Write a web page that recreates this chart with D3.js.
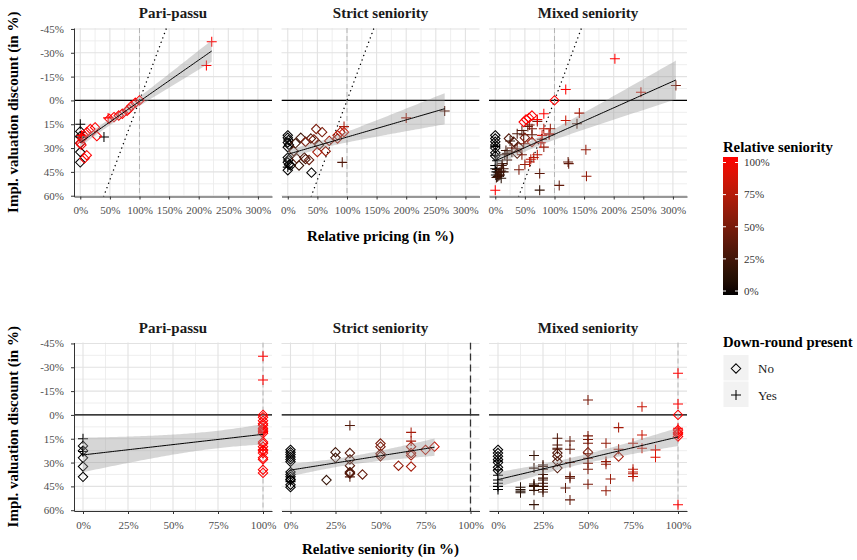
<!DOCTYPE html>
<html>
<head>
<meta charset="utf-8">
<script src="https://cdn.jsdelivr.net/npm/d3@7"></script>
<style>
  body { margin: 0; background: #fff; }
  svg { display: block; font-family: "Liberation Serif", "Times New Roman", serif; }
</style>
</head>
<body>
<div id="chart"></div>
<script>
const facetNames = ["Pari-passu", "Strict seniority", "Mixed seniority"];

// rows: [relative pricing %, relative seniority %, impl. valuation discount %, down-round (1 = yes)]
const pariPassu = [
  [0, 0, 15, 1], [0, 0, 19.5, 0], [0, 0, 22.5, 0], [0, 0, 23, 1], [0, 0, 27, 0],
  [0, 0, 32.5, 0], [0, 0, 39, 0], [40, 0, 23, 1],
  [100, 100, 0, 0], [93, 100, 1.5, 0], [86, 100, 3.6, 0], [82, 100, 5.5, 0], [79, 100, 6.5, 0],
  [71, 100, 8.4, 0], [65, 100, 9.5, 0], [57, 100, 10.5, 0], [49, 100, 11.6, 0], [47, 100, 11, 1],
  [28, 100, 22.5, 0], [25, 100, 17, 0], [17, 100, 18, 0], [11, 100, 20, 0], [6, 100, 22, 0],
  [2, 100, 22, 1], [3, 100, 24, 0], [0, 100, 27, 0], [2, 100, 28, 0], [11, 100, 34.5, 0],
  [7, 100, 36.5, 0], [222, 100, -37, 1], [213, 100, -22, 1]
];

const strictSeniority = [
  [0, 0, 22, 0], [0, 0, 23.5, 0], [1, 0, 25, 0], [0, 0, 26.5, 0], [2, 0, 28, 0], [0, 0, 29.5, 0],
  [0, 0, 36, 0], [1, 0, 37.5, 0], [0, 0, 39, 0], [2, 0, 40.5, 0], [0, 0, 42, 1], [5, 0, 41, 0],
  [0, 0, 44, 0], [40, 0, 45.5, 0],
  [19, 20, 41, 0], [22, 25, 23.5, 0], [13, 25, 27, 0],
  [39, 33, 24, 0], [53, 33, 28, 0], [10, 33, 32, 0], [28, 33, 36, 0], [30, 33, 37, 0],
  [15, 33, 36.5, 0], [92, 33, 39, 1], [265, 33, 6.7, 1],
  [36, 40, 37.5, 0],
  [48, 50, 18, 0], [58, 50, 20, 0], [44, 50, 24.5, 0], [30, 50, 26, 0],
  [64, 60, 32, 0],
  [200, 67, 11, 1], [95, 67, 16.5, 1], [89, 67, 20, 0], [84, 67, 24, 0], [70, 67, 25.5, 0], [50, 67, 32.5, 0],
  [84, 75, 22, 0], [95, 80, 20, 0]
];

const mixedSeniority = [
  [0, 0, 22, 0], [0, 0, 24, 0], [0, 0, 26, 0], [0, 0, 28, 0], [0, 0, 30, 0], [0, 0, 33, 0],
  [0, 0, 35, 0], [0, 0, 34.5, 1], [0, 0, 29, 1], [0, 0, 41, 1], [2, 0, 45, 1], [0, 0, 43, 1],
  [3, 0, 38, 1], [1, 0, 47, 1],
  [8, 12.5, 47, 1], [10, 12.5, 49, 1], [5, 12.5, 45.5, 1], [4, 12.5, 48, 1],
  [25, 20, 25.5, 1], [20, 20, 33.5, 1], [3, 20, 43.5, 1], [75, 20, 56.5, 1], [14, 20, 45, 1],
  [6, 20, 47.5, 1], [10, 20, 44.5, 1],
  [28, 25, 32.5, 1], [20, 25, 37.5, 1], [11, 25, 41, 1], [14, 25, 43, 1], [8, 25, 45, 1], [6, 25, 47, 1],
  [18, 25, 31.5, 1], [16, 25, 34.2, 1], [12, 25, 39.8, 1], [2, 25, 48.5, 1],
  [138, 33, 14.7, 1], [45, 33, 18.9, 1], [37, 33, 21, 1], [48, 33, 21.6, 1], [23, 33, 24, 0],
  [31, 33, 26, 0], [40, 33, 29.4, 0], [37, 33, 33.5, 0],
  [75, 37.5, 46, 1],
  [55, 40, 16.4, 1], [62, 40, 21.6, 1], [28, 40, 30, 1], [123, 40, 38.8, 1], [124, 40, 39.8, 1], [108, 40, 53.5, 1],
  [305, 50, -9.4, 1], [71, 50, 13.2, 1], [58, 50, 15.5, 1], [62, 50, 17.8, 1], [50, 50, 23.5, 0],
  [79, 50, 24.5, 1], [48, 50, 27.3, 1], [37, 50, 30.4, 1], [45, 50, 34.2, 1], [40, 50, 43.6, 1],
  [93, 60, 17.8, 1], [82, 60, 29.4, 1], [153, 60, 31, 1], [154, 60, 47.8, 1],
  [50, 62.5, 40.3, 1],
  [142, 67, 8, 1], [91, 67, 21.6, 1], [62, 67, 26.2, 0],
  [82, 75, 17.8, 1], [71, 75, 34.2, 1], [65, 75, 36, 1], [60, 75, 37.1, 1], [58, 75, 38.8, 1],
  [246, 80, -5.2, 1], [119, 80, 12.6, 1], [91, 80, 21, 1],
  [79, 87.5, 22, 1], [77, 87.5, 26.6, 1],
  [202, 100, -26.2, 1], [119, 100, -6.9, 1], [100, 100, 0, 0], [62, 100, 9.5, 0], [57, 100, 11, 0],
  [52, 100, 12, 0], [48, 100, 13.6, 0], [82, 100, 8.4, 1], [71, 100, 12, 1], [0, 100, 56.6, 1]
];

const pricingTicks = [0, 50, 100, 150, 200, 250, 300];
const seniorityTicks = [0, 25, 50, 75, 100];
const discountTicks = [-45, -30, -15, 0, 15, 30, 45, 60];
const colourTicks = [0, 25, 50, 75, 100];
const downRoundLabels = ["No", "Yes"];
const breakEven = { intercept: 100, slope: -1 };   // discount = 100% - relative pricing

const width = 857, height = 560;
const panelW = 198, panelH = 168.5;
const panelX = [74, 281.5, 489];
const rowY = [28, 342.5];

const svg = d3.select("#chart").append("svg")
  .attr("width", width)
  .attr("height", height);

const colour = d3.scaleLinear().domain([0, 100]).range(["#000000", "#ff0000"]).interpolate(d3.interpolateLab);
const y = d3.scaleLinear().domain([-45.6, 60.5]).range([0, panelH]);
const xPricing = d3.scaleLinear().domain([-10.6, 323.8]).range([0, panelW]);
const xSeniority = d3.scaleLinear().domain([-5, 105]).range([0, panelW]);

const diamond = "M0,-4.7L4.7,0L0,4.7L-4.7,0Z";
const plus = "M-5,0H5M0,-5V5";

// linear fit with 95% confidence band, like geom_smooth(method = "lm")
function lmBand(data, xi) {
  const n = data.length;
  const xs = data.map(d => d[xi]);
  const xbar = d3.mean(xs), ybar = d3.mean(data, d => d[2]);
  const sxx = d3.sum(xs, v => (v - xbar) ** 2);
  const sxy = d3.sum(data, d => (d[xi] - xbar) * (d[2] - ybar));
  const b = sxy / sxx, a = ybar - b * xbar;
  const df = n - 2;
  const s = Math.sqrt(d3.sum(data, d => (d[2] - a - b * d[xi]) ** 2) / df);
  const t = 1.96 + 2.4 / df + 2.9 / (df * df);
  const [x0, x1] = d3.extent(xs);
  return d3.range(81).map(i => {
    const xv = x0 + (x1 - x0) * i / 80;
    const fitV = a + b * xv;
    const se = s * Math.sqrt(1 / n + (xv - xbar) ** 2 / sxx);
    return { x: xv, y: fitV, lo: fitV - t * se, hi: fitV + t * se };
  });
}

const datasets = [pariPassu, strictSeniority, mixedSeniority];
const defs = svg.append("defs");

[0, 1].forEach(row => {
  const x = row === 0 ? xPricing : xSeniority;
  const xi = row === 0 ? 0 : 1;
  const xTicks = row === 0 ? pricingTicks : seniorityTicks;
  const step = xTicks[1] - xTicks[0];
  const xMinor = d3.range(xTicks[0] + step / 2, x.domain()[1], step);
  const yMinor = discountTicks.slice(0, -1).map(v => v + 7.5);

  datasets.forEach((data, col) => {
    const g = svg.append("g").attr("transform", `translate(${panelX[col]},${rowY[row]})`);
    const clipId = `clip-${row}-${col}`;
    defs.append("clipPath").attr("id", clipId)
      .append("rect").attr("width", panelW).attr("height", panelH);

    // grid
    g.selectAll(".vminor").data(xMinor).join("line")
      .attr("x1", d => x(d)).attr("x2", d => x(d)).attr("y1", 0).attr("y2", panelH)
      .attr("stroke", "#ececec").attr("stroke-width", 0.9);
    g.selectAll(".hminor").data(yMinor).join("line")
      .attr("x1", 0).attr("x2", panelW).attr("y1", d => y(d)).attr("y2", d => y(d))
      .attr("stroke", "#ececec").attr("stroke-width", 0.9);
    g.selectAll(".vmajor").data(xTicks).join("line")
      .attr("x1", d => x(d)).attr("x2", d => x(d)).attr("y1", 0).attr("y2", panelH)
      .attr("stroke", "#e2e2e2").attr("stroke-width", 1.1);
    g.selectAll(".hmajor").data(discountTicks).join("line")
      .attr("x1", 0).attr("x2", panelW).attr("y1", d => y(d)).attr("y2", d => y(d))
      .attr("stroke", "#e2e2e2").attr("stroke-width", 1.1);

    const inner = g.append("g").attr("clip-path", `url(#${clipId})`);

    // reference lines
    inner.append("line")
      .attr("x1", 0).attr("x2", panelW).attr("y1", y(0)).attr("y2", y(0))
      .attr("stroke", "#000").attr("stroke-width", 1.1);
    const heavy = row === 1 && col === 1;
    inner.append("line")
      .attr("x1", x(100)).attr("x2", x(100)).attr("y1", 0).attr("y2", panelH)
      .attr("stroke", heavy ? "#333" : "#a8a8a8")
      .attr("stroke-width", heavy ? 1.3 : 0.8)
      .attr("stroke-dasharray", heavy ? "7,4" : "5,3");
    if (row === 0) {
      const yLo = y.domain()[1], yHi = y.domain()[0];
      const xa = (yLo - breakEven.intercept) / breakEven.slope;
      const xb = (yHi - breakEven.intercept) / breakEven.slope;
      inner.append("line")
        .attr("x1", x(xa)).attr("y1", y(yLo)).attr("x2", x(xb)).attr("y2", y(yHi))
        .attr("stroke", "#000").attr("stroke-width", 1.4)
        .attr("stroke-linecap", "round").attr("stroke-dasharray", "0.1,4.6");
    }

    // points
    inner.selectAll(".pt").data(data).join("path")
      .attr("transform", d => `translate(${x(d[xi])},${y(d[2])})`)
      .attr("d", d => d[3] ? plus : diamond)
      .attr("fill", "none")
      .attr("stroke", d => colour(d[1]))
      .attr("stroke-width", 1.05);

    // lm fit
    const band = lmBand(data, xi);
    inner.append("path").datum(band)
      .attr("d", d3.area().x(d => x(d.x)).y0(d => y(d.lo)).y1(d => y(d.hi)))
      .attr("fill", "#999").attr("fill-opacity", 0.4);
    inner.append("path").datum(band)
      .attr("d", d3.line().x(d => x(d.x)).y(d => y(d.y)))
      .attr("fill", "none").attr("stroke", "#000").attr("stroke-width", 1);

    // x axis
    const xa = g.append("g").attr("transform", `translate(0,${panelH})`)
      .call(d3.axisBottom(x).tickValues(xTicks).tickSize(3).tickSizeOuter(0).tickPadding(7)
        .tickFormat(d => d + "%"));
    xa.select(".domain").attr("stroke", "#333").attr("stroke-width", 1);
    xa.selectAll(".tick line").attr("stroke", "#333");
    xa.selectAll("text").attr("fill", "#4d4d4d").style("font-size", "11px")
      .style("font-family", "Liberation Serif, serif");

    // y axis (first column only)
    if (col === 0) {
      const ya = g.append("g")
        .call(d3.axisLeft(y).tickValues(discountTicks).tickSize(3).tickSizeOuter(0).tickPadding(7)
          .tickFormat(d => d + "%"));
      ya.select(".domain").attr("stroke", "#333").attr("stroke-width", 1);
      ya.selectAll(".tick line").attr("stroke", "#333");
      ya.selectAll("text").attr("fill", "#4d4d4d").style("font-size", "11px")
        .style("font-family", "Liberation Serif, serif");
    }

    // facet title
    g.append("text")
      .attr("x", panelW / 2).attr("y", -10)
      .attr("text-anchor", "middle")
      .style("font-size", "15px").style("font-weight", "bold")
      .attr("fill", "#1a1a1a")
      .text(facetNames[col]);
  });

  // axis titles
  svg.append("text")
    .attr("transform", `translate(13,${rowY[row] + panelH / 2}) rotate(-90)`)
    .attr("text-anchor", "middle").attr("dy", "0.35em")
    .style("font-size", "15px").style("font-weight", "bold")
    .text("Impl. valuation discount (in %)");
  svg.append("text")
    .attr("x", (panelX[0] + panelX[2] + panelW) / 2)
    .attr("y", rowY[row] + panelH + (row === 0 ? 44 : 43))
    .attr("text-anchor", "middle")
    .style("font-size", "15px").style("font-weight", "bold")
    .text(row === 0 ? "Relative pricing (in %)" : "Relative seniority (in %)");
});

// colour legend
const lg = svg.append("g").attr("transform", "translate(723,0)");
lg.append("text").attr("x", 0).attr("y", 152)
  .style("font-size", "14.7px").style("font-weight", "bold")
  .text("Relative seniority");
const grad = defs.append("linearGradient").attr("id", "seniorityGrad")
  .attr("x1", 0).attr("y1", 1).attr("x2", 0).attr("y2", 0);
grad.selectAll("stop").data(d3.range(0, 101, 5)).join("stop")
  .attr("offset", d => d + "%").attr("stop-color", d => colour(d));
const cy = d3.scaleLinear().domain([0, 100]).range([291, 162.5]);
lg.append("rect").attr("x", 0).attr("y", 157).attr("width", 15).attr("height", 138)
  .attr("fill", "url(#seniorityGrad)");
lg.selectAll(".ctl").data(colourTicks).join("line")
  .attr("x1", 0).attr("x2", 3).attr("y1", d => cy(d)).attr("y2", d => cy(d))
  .attr("stroke", "#fff").attr("stroke-width", 1);
lg.selectAll(".ctr").data(colourTicks).join("line")
  .attr("x1", 12).attr("x2", 15).attr("y1", d => cy(d)).attr("y2", d => cy(d))
  .attr("stroke", "#fff").attr("stroke-width", 1);
lg.selectAll(".clab").data(colourTicks).join("text")
  .attr("x", 21).attr("y", d => cy(d)).attr("dy", "0.35em")
  .style("font-size", "11px").attr("fill", "#333")
  .text(d => d + "%");

// shape legend
const sg = svg.append("g").attr("transform", "translate(723,0)");
sg.append("text").attr("x", 0).attr("y", 347)
  .style("font-size", "14.7px").style("font-weight", "bold")
  .text("Down-round present");
const keys = sg.selectAll(".key").data(downRoundLabels).join("g")
  .attr("transform", (d, i) => `translate(0,${355 + i * 26.5})`);
keys.append("rect").attr("x", 0.5).attr("width", 25).attr("height", 25.5).attr("fill", "#f2f2f2");
keys.append("path").attr("transform", "translate(13,13.5)")
  .attr("d", (d, i) => i ? plus : diamond)
  .attr("fill", "none").attr("stroke", "#000").attr("stroke-width", 1.05);
keys.append("text").attr("x", 35).attr("y", 13.5).attr("dy", "0.35em")
  .style("font-size", "13px").attr("fill", "#1a1a1a")
  .text(d => d);
</script>
</body>
</html>
